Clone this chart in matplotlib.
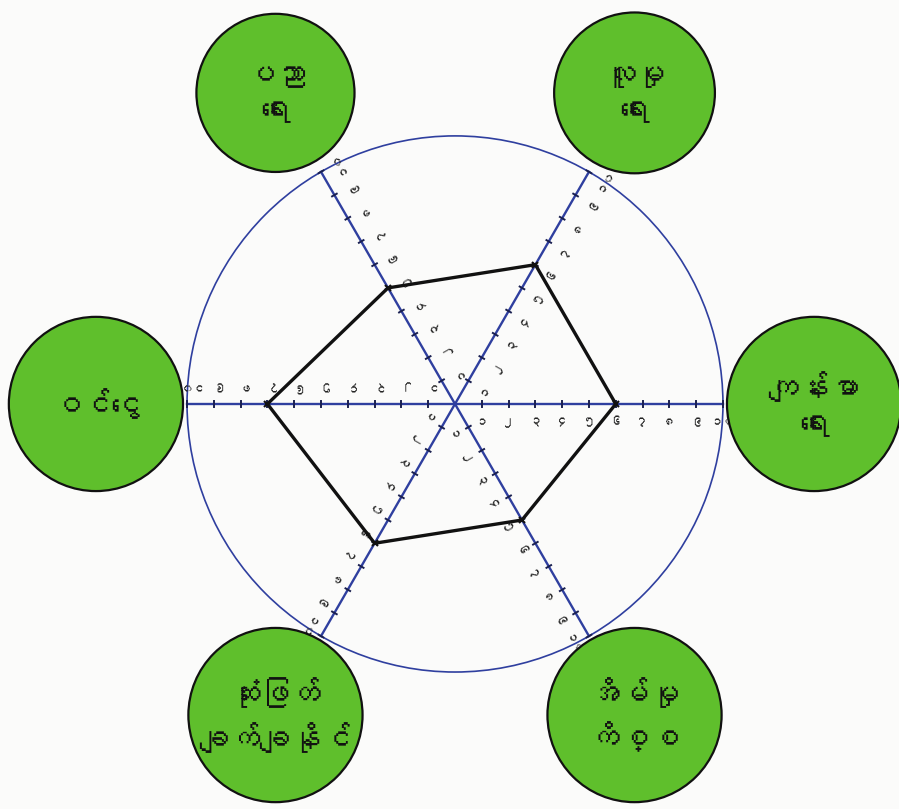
import numpy as np
import matplotlib.pyplot as plt
from matplotlib import font_manager
from matplotlib.ft2font import FT2Font

# life-wheel scores, one spoke per area (counter-clockwise from the right)
areas = ['ကျန်းမာ\nရေး', 'လူမှု\nရေး', 'ပညာ\nရေး', 'ဝင်ငွေ',
         'ဆုံးဖြတ်\nချက်ချနိုင်', 'အိမ်မှု\nကိစ္စ']
scores = [6, 6, 5, 7, 6, 5]
tick_values = [1, 2, 3, 4, 5, 6, 7, 8, 9, 10]
tick_labels = ['၁', '၂', '၃', '၄', '၅', '၆', '၇', '၈', '၉', '၁၀']

blue = '#2f3f9f'
green = '#5fbf2c'
bubble_r = [3.25, 3.0, 2.95, 3.25, 3.25, 3.25]


def myanmar_font():
	# look for any installed font that has Myanmar glyphs
	for f in font_manager.fontManager.ttflist:
		try:
			if 0x1000 in FT2Font(f.fname).get_charmap():
				return f.name
		except Exception:
			pass
	return 'DejaVu Sans'


fam = [myanmar_font(), 'DejaVu Sans']

fig = plt.figure(figsize=(8.99, 8.09), dpi=100, facecolor='#fbfbfa')
ax = fig.add_axes([0, 0, 1, 1])
ax.set_xlim(-16.98, 16.57)
ax.set_ylim(-15.11, 15.07)
ax.axis('off')

n = len(areas)
angles = np.arange(n) * 2 * np.pi / n
rmax = tick_values[-1]

ax.add_patch(plt.Circle((0, 0), rmax, fill=False, ec=blue, lw=1.2))

for a in angles:
	ux, uy = np.cos(a), np.sin(a)
	px, py = np.sin(a), -np.cos(a)  # clockwise side of the spoke
	ax.plot([0, rmax * ux], [0, rmax * uy], color=blue, lw=1.7, zorder=2)
	for v, lab in zip(tick_values, tick_labels):
		x, y = v * ux, v * uy
		ax.plot([x - 0.1 * px, x + 0.1 * px], [y - 0.1 * py, y + 0.1 * py],
			color='#1a2050', lw=1.4, zorder=3)
		ax.text(x + 0.7 * px, y + 0.7 * py, lab, family=fam, fontsize=9,
			rotation=np.degrees(a), ha='center', va='center', color='#222')

xs = [s * np.cos(a) for s, a in zip(scores, angles)]
ys = [s * np.sin(a) for s, a in zip(scores, angles)]
ax.plot(xs + xs[:1], ys + ys[:1], color='#111', lw=2.4, zorder=4,
	solid_joinstyle='miter')
ax.plot(xs, ys, 'x', color='#111', ms=5, mew=1.5, zorder=5)

for a, name, r in zip(angles, areas, bubble_r):
	cx, cy = 13.4 * np.cos(a), 13.4 * np.sin(a)
	ax.add_patch(plt.Circle((cx, cy), r, fc=green, ec='#111', lw=1.6, zorder=6))
	ax.text(cx, cy, name, family=fam, fontsize=22, ha='center', va='center',
		linespacing=1.5, color='#111', zorder=7)

fig.savefig('out.png', dpi=100, facecolor=fig.get_facecolor())
